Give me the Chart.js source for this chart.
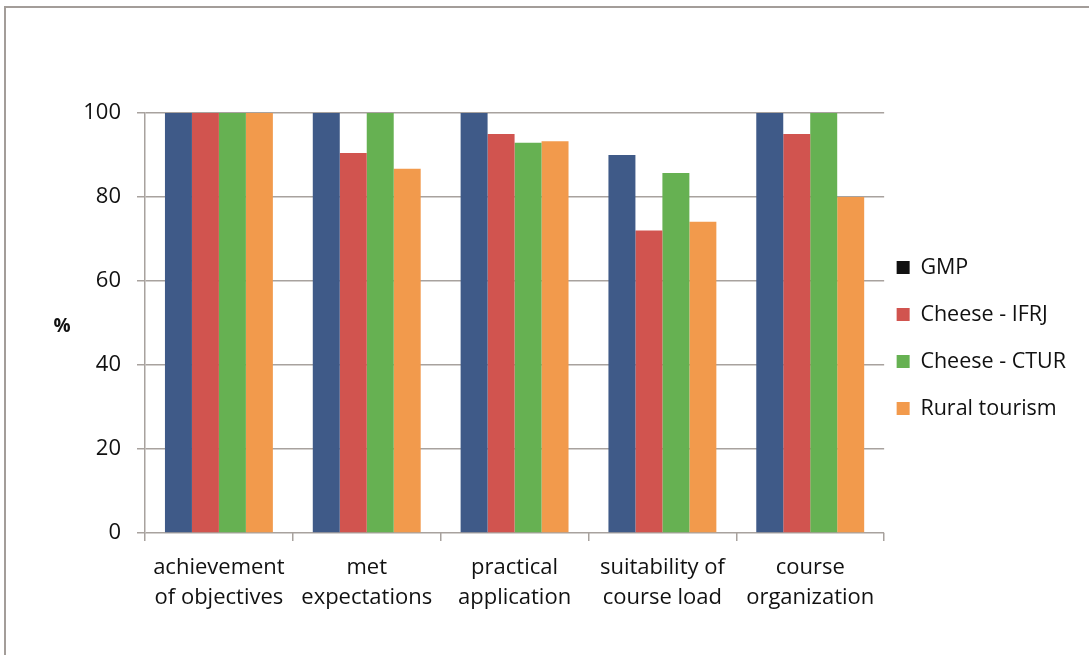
<!DOCTYPE html>
<html>
<head>
<meta charset="utf-8">
<script src="https://cdn.jsdelivr.net/npm/chart.js@4/dist/chart.umd.min.js"></script>
<style>
  html, body { margin: 0; padding: 0; background: #fff; }
  #wrap { position: relative; width: 1089px; height: 655px; overflow: hidden; }
  #frame { position: absolute; left: 4px; top: 6px; right: -2px; bottom: -2px;
           border-top: 2px solid #a39d99; border-left: 2px solid #a39d99; }
  canvas { position: absolute; left: 0; top: 0; }
</style>
</head>
<body>
<div id="wrap">
  <div id="frame"></div>
  <canvas id="myChart" width="1089" height="655"></canvas>
</div>
<script>
// categories and series
var categories = [
    ['achievement', 'of objectives'],
    ['met', 'expectations'],
    ['practical', 'application'],
    ['suitability of', 'course load'],
    ['course', 'organization']
];
var gmp = [100, 100, 100, 90, 100];
var cheeseIfrj = [100, 90.5, 95, 72, 95];
var cheeseCtur = [100, 100, 92.9, 85.7, 100];
var ruralTourism = [100, 86.7, 93.3, 74.1, 80];
var yTicks = [0, 20, 40, 60, 80, 100];

var gridColor = '#a8a29e';
var textColor = '#111';
var fontFamily = '"Open Sans", Lato, sans-serif';

// "%" written horizontally left of the y axis
var percentLabel = {
    id: 'percentLabel',
    afterDraw: function(chart) {
        var ctx = chart.ctx;
        var area = chart.chartArea;
        ctx.save();
        ctx.fillStyle = textColor;
        ctx.font = 'bold 19px ' + fontFamily;
        ctx.textAlign = 'center';
        ctx.textBaseline = 'middle';
        ctx.fillText('%', area.left - 83, (area.top + area.bottom) / 2 + 4);
        ctx.restore();
    }
};

// nudge the legend a little left and up, like the original
var legendNudge = {
    id: 'legendNudge',
    afterLayout: function(chart) {
        var lg = chart.legend;
        lg.left -= 13; lg.right -= 13;
        lg.top -= 35; lg.bottom -= 35;
    }
};

var config = {
    type: 'bar',
    data: {
        labels: categories,
        datasets: [
            { label: 'GMP', data: gmp, backgroundColor: '#3f5a88' },
            { label: 'Cheese - IFRJ', data: cheeseIfrj, backgroundColor: '#d1544f' },
            { label: 'Cheese - CTUR', data: cheeseCtur, backgroundColor: '#66b152' },
            { label: 'Rural tourism', data: ruralTourism, backgroundColor: '#f29a4c' }
        ]
    },
    options: {
        responsive: false,
        devicePixelRatio: 1,
        animation: false,
        datasets: {
            bar: { barPercentage: 1, categoryPercentage: 0.73 }
        },
        layout: {
            padding: { top: 113, bottom: 22, left: 0, right: 0 }
        },
        plugins: {
            tooltip: { enabled: false },
            legend: {
                position: 'right',
                align: 'center',
                labels: {
                    color: textColor,
                    font: { family: fontFamily, size: 21.5 },
                    boxWidth: 13,
                    boxHeight: 13,
                    padding: 25.5,
                    generateLabels: function(chart) {
                        var items = Chart.defaults.plugins.legend.labels.generateLabels(chart);
                        items.forEach(function(it) { it.lineWidth = 0; });
                        // the GMP key is drawn black in the original
                        items[0].fillStyle = '#111';
                        return items;
                    }
                }
            }
        },
        scales: {
            x: {
                afterFit: function(scale) { scale.height = 100; },
                grid: {
                    offset: true,
                    drawOnChartArea: false,
                    color: gridColor,
                    lineWidth: 1.5,
                    tickLength: 8
                },
                border: { display: false },
                ticks: {
                    color: textColor,
                    padding: 11,
                    maxRotation: 0,
                    font: { family: fontFamily, size: 22, lineHeight: 1.4 }
                }
            },
            y: {
                min: 0,
                max: 100,
                afterFit: function(scale) { scale.width = 145; },
                afterBuildTicks: function(scale) {
                    scale.ticks = yTicks.map(function(v) { return { value: v }; });
                },
                grid: {
                    color: gridColor,
                    lineWidth: 1.5,
                    tickLength: 8
                },
                border: { color: gridColor, width: 1.5 },
                ticks: {
                    color: textColor,
                    padding: 16,
                    font: { family: fontFamily, size: 22 }
                }
            }
        }
    },
    plugins: [percentLabel, legendNudge]
};

window.addEventListener('DOMContentLoaded', function() {
    var ctx = document.getElementById('myChart').getContext('2d');
    window.myBar = new Chart(ctx, config);
});
</script>
</body>
</html>
